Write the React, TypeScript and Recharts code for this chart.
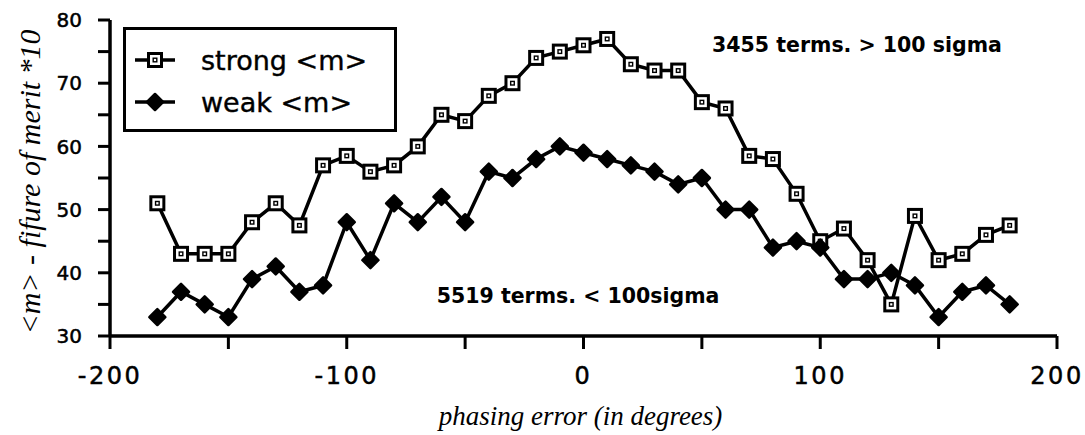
import { LineChart, Line, XAxis, YAxis, Legend, ReferenceDot } from 'recharts'

// phasing error (degrees)
const phase = [
  -180, -170, -160, -150, -140, -130, -120, -110, -100, -90, -80, -70, -60, -50, -40, -30, -20, -10,
  0, 10, 20, 30, 40, 50, 60, 70, 80, 90, 100, 110, 120, 130, 140, 150, 160, 170, 180,
]
// strong <m> (figure of merit * 10)
const strong = [
  51, 43, 43, 43, 48, 51, 47.5, 57, 58.5, 56, 57, 60, 65, 64, 68, 70, 74, 75,
  76, 77, 73, 72, 72, 67, 66, 58.5, 58, 52.5, 45, 47, 42, 35, 49, 42, 43, 46, 47.5,
]
// weak <m>
const weak = [
  33, 37, 35, 33, 39, 41, 37, 38, 48, 42, 51, 48, 52, 48, 56, 55, 58, 60,
  59, 58, 57, 56, 54, 55, 50, 50, 44, 45, 44, 39, 39, 40, 38, 33, 37, 38, 35,
]
const xTicks = [-200, -150, -100, -50, 0, 50, 100, 150, 200]
const yTicks = [30, 35, 40, 45, 50, 55, 60, 65, 70, 75, 80]

const data = phase.map((p, i) => ({ phase: p, strong: strong[i], weak: weak[i] }))

const SANS = '"DejaVu Sans", sans-serif'
const SERIF = '"Liberation Serif", serif'

function SquareDot(props: any) {
  const { cx, cy } = props
  if (cx == null || cy == null) return null
  return (
    <g>
      <rect x={cx - 6.5} y={cy - 6.5} width={13} height={13} fill="#fff" stroke="#000" strokeWidth={3} />
      <rect x={cx - 1.8} y={cy - 1.8} width={3.6} height={3.6} fill="#fff" stroke="#000" strokeWidth={1.4} />
    </g>
  )
}

function DiamondDot(props: any) {
  const { cx, cy } = props
  if (cx == null || cy == null) return null
  return (
    <polygon
      points={`${cx},${cy - 8} ${cx + 8},${cy} ${cx},${cy + 8} ${cx - 8},${cy}`}
      fill="#000"
      stroke="#000"
      strokeWidth={2.5}
      strokeLinejoin="round"
    />
  )
}

function LegendBox() {
  const row = (dot: React.ReactNode, text: string) => (
    <div style={{ display: 'flex', alignItems: 'center', height: 42 }}>
      <svg width={60} height={20} style={{ marginLeft: 7 }}>
        <line x1={2} y1={10} x2={42} y2={10} stroke="#000" strokeWidth={3.5} />
        {dot}
      </svg>
      <span style={{ marginLeft: 8, WebkitTextStroke: '0.4px #000' }}>{text}</span>
    </div>
  )
  return (
    <div
      style={{
        border: '3px solid #000',
        width: 274,
        height: 105,
        boxSizing: 'border-box',
        background: '#fff',
        fontFamily: SANS,
        fontSize: 27,
        color: '#000',
        paddingTop: 9,
        lineHeight: 1,
      }}
    >
      {row(<SquareDot cx={22} cy={10} />, 'strong <m>')}
      {row(<DiamondDot cx={22} cy={10} />, 'weak <m>')}
    </div>
  )
}

function note(text: string) {
  return (props: any) => {
    const { viewBox } = props
    const cx = viewBox.cx ?? viewBox.x
    const cy = viewBox.cy ?? viewBox.y
    return (
      <text x={cx} y={cy} textAnchor="middle" dominantBaseline="central" fontFamily={SANS} fontWeight="bold" fontSize={20.5} fill="#000">
        {text}
      </text>
    )
  }
}

export default function App() {
  return (
    <div style={{ position: 'absolute', left: 0, top: 0, width: 1085, height: 435, background: '#fff' }}>
      <LineChart width={1085} height={435} data={data} margin={{ top: 20, right: 28, bottom: 0, left: 0 }}>
        <XAxis
          dataKey="phase"
          type="number"
          domain={[-200, 200]}
          ticks={xTicks}
          tickFormatter={(v) => (v % 100 === 0 ? String(v) : '')}
          height={99}
          tickSize={13}
          tickMargin={18}
          axisLine={{ stroke: '#000', strokeWidth: 3.5 }}
          tickLine={{ stroke: '#000', strokeWidth: 3 }}
          tick={{ fill: '#000', stroke: '#000', strokeWidth: 0.5, fontSize: 24, fontFamily: SANS, letterSpacing: 2.5 }}
          label={{
            content: (props: any) => {
              const vb = props.viewBox
              return (
                <text x={vb.x + vb.width / 2 - 3} y={425} textAnchor="middle" fontFamily={SERIF} fontStyle="italic" fontSize={27} fill="#000">
                  phasing error (in degrees)
                </text>
              )
            },
          }}
        />
        <XAxis
          xAxisId="top"
          orientation="top"
          dataKey="phase"
          type="number"
          domain={[-200, 200]}
          height={0}
          tick={false}
          tickLine={false}
          axisLine={{ stroke: '#000', strokeWidth: 3 }}
        />
        <YAxis
          type="number"
          domain={[30, 80]}
          ticks={yTicks}
          tickFormatter={(v) => (v % 10 === 0 ? String(v) : '')}
          width={110}
          tickSize={12}
          tickMargin={16}
          axisLine={{ stroke: '#000', strokeWidth: 3.5 }}
          tickLine={{ stroke: '#000', strokeWidth: 3 }}
          tick={{ fill: '#000', stroke: '#000', strokeWidth: 0.5, fontSize: 20, fontFamily: SANS }}
          label={{
            content: (props: any) => {
              const vb = props.viewBox
              const cy = vb.y + vb.height / 2 + 4
              return (
                <text x={40} y={cy} transform={`rotate(-90 40 ${cy})`} textAnchor="middle" fontFamily={SERIF} fontStyle="italic" fontSize={30} fill="#000">
                  {'<m> - fifure of merit *10'}
                </text>
              )
            },
          }}
        />
        <YAxis
          yAxisId="right"
          orientation="right"
          type="number"
          domain={[30, 80]}
          width={0}
          tick={false}
          tickLine={false}
          axisLine={{ stroke: '#000', strokeWidth: 3 }}
        />
        <Legend
          layout="horizontal"
          verticalAlign="middle"
          align="center"
          content={() => <LegendBox />}
          wrapperStyle={{ left: 123, top: 27, width: 274, height: 105 }}
        />
        <ReferenceDot x={115.5} y={76} r={0} fill="none" stroke="none" label={{ content: note('3455 terms. > 100 sigma') }} />
        <ReferenceDot x={-2.3} y={36.3} r={0} fill="none" stroke="none" label={{ content: note('5519 terms. < 100sigma') }} />
        <Line
          dataKey="strong"
          stroke="#000"
          strokeWidth={3.5}
          dot={<SquareDot />}
          activeDot={false}
          isAnimationActive={false}
        />
        <Line
          dataKey="weak"
          stroke="#000"
          strokeWidth={3.5}
          dot={<DiamondDot />}
          activeDot={false}
          isAnimationActive={false}
        />
      </LineChart>
    </div>
  )
}
